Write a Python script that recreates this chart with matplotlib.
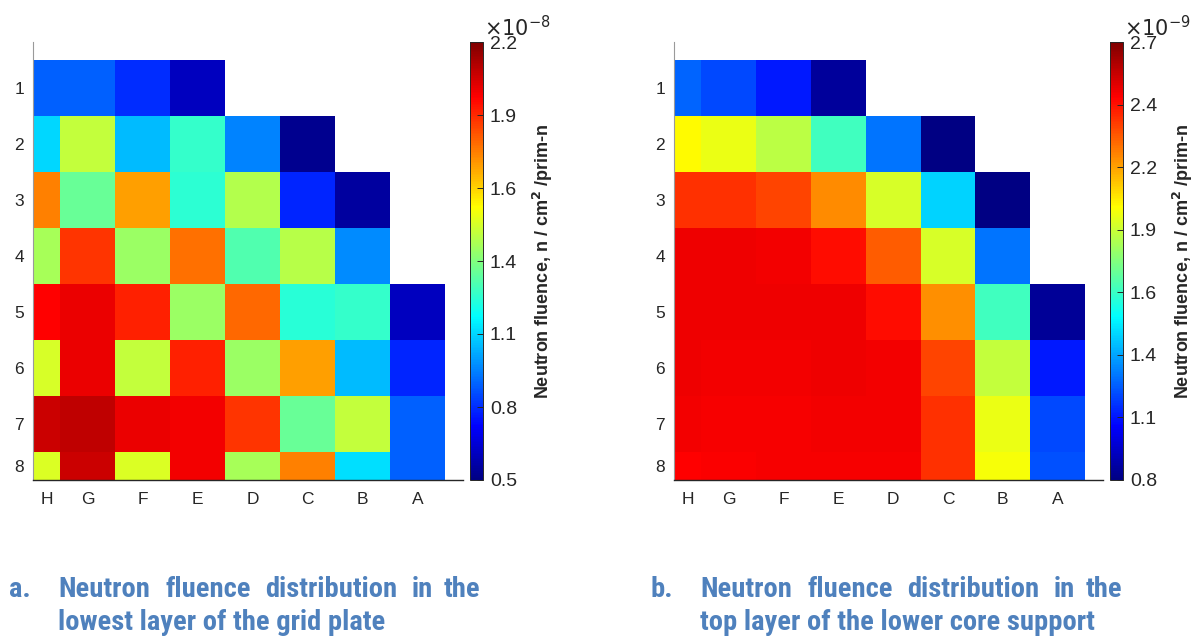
import numpy as np
import matplotlib
matplotlib.use("Agg")
import matplotlib.pyplot as plt
from matplotlib.colors import ListedColormap

plt.rcParams['font.family'] = ['Liberation Sans', 'DejaVu Sans']

rows = ['1', '2', '3', '4', '5', '6', '7', '8']
cols = ['H', 'G', 'F', 'E', 'D', 'C', 'B', 'A']
nan = np.nan

# fluence values (x1e-8 and x1e-9), nan = no assembly
fluence_a = np.array([
    [0.87, 0.87, 0.78, 0.60,  nan,   nan,  nan,  nan],
    [1.07, 1.46, 1.02, 1.22,  0.93,  0.52, nan,  nan],
    [1.77, 1.31, 1.72, 1.21,  1.43,  0.77, 0.55, nan],
    [1.41, 1.90, 1.39, 1.80,  1.27,  1.44, 0.94, nan],
    [1.986, 2.02, 1.93, 1.39, 1.81,  1.20, 1.22, 0.60],
    [1.49, 2.02, 1.46, 1.93,  1.39,  1.72, 1.02, 0.77],
    [2.069, 2.091, 2.02, 2.003, 1.90, 1.31, 1.46, 0.87],
    [1.50, 2.069, 1.50, 2.003, 1.41, 1.77, 1.08, 0.87],
])
fluence_b = np.array([
    [1.22,  1.17,  1.08,  0.85,  nan,   nan,  nan,  nan],
    [1.99,  1.95,  1.86,  1.63,  1.25,  0.80, nan,  nan],
    [2.37,  2.37,  2.33,  2.20,  1.91,  1.43, 0.80, nan],
    [2.487, 2.487, 2.484, 2.436, 2.29,  1.91, 1.25, nan],
    [2.487, 2.487, 2.487, 2.491, 2.436, 2.195, 1.63, 0.84],
    [2.491, 2.479, 2.479, 2.487, 2.479, 2.33, 1.87, 1.08],
    [2.479, 2.476, 2.476, 2.479, 2.479, 2.37, 1.95, 1.17],
    [2.46,  2.465, 2.476, 2.476, 2.476, 2.37, 1.97, 1.18],
])

range_a = (0.5, 2.2)
range_b = (0.8, 2.7)
cbar_labels_a = ['0.5', '0.8', '1.1', '1.4', '1.6', '1.9', '2.2']
cbar_labels_b = ['0.8', '1.1', '1.4', '1.6', '1.9', '2.2', '2.4', '2.7']
exponent_a = r'$\times10^{-8}$'
exponent_b = r'$\times10^{-9}$'

caption_a = ['a.', ['Neutron', 'fluence', 'distribution', 'in', 'the'],
             'lowest layer of the grid plate']
caption_b = ['b.', ['Neutron', 'fluence', 'distribution', 'in', 'the'],
             'top layer of the lower core support']

txt = '#262626'
cap_color = '#4f81bd'


def matlab_jet(m=256):
    # same construction as MATLAB's jet(m)
    n = int(np.ceil(m / 4))
    u = np.concatenate([np.arange(1, n + 1) / n, np.ones(n - 1), np.arange(n, 0, -1) / n])
    g = int(np.ceil(n / 2)) - (m % 4 == 1) + np.arange(1, len(u) + 1)
    r, b = g + n, g - n
    cmap = np.zeros((m, 3))
    for ch, idx in [(0, r), (1, g), (2, b)]:
        ok = (idx >= 1) & (idx <= m)
        cmap[idx[ok] - 1, ch] = u[ok]
    return ListedColormap(cmap)


jet = matlab_jet(256)
W, H = 1200, 637
fig = plt.figure(figsize=(12, 6.37), dpi=100)


def px(x0, y0, x1, y1):
    return (x0 / W, 1 - y1 / H, (x1 - x0) / W, (y1 - y0) / H)


def panel(ax_box, cax_box, data, vrange, labels, expo, expo_x, label_x):
    ax = fig.add_axes(px(*ax_box))
    xe = np.arange(len(cols) + 1) - 0.5
    ye = np.arange(len(rows) + 1) + 0.5
    m = ax.pcolormesh(xe, ye, np.ma.masked_invalid(data), cmap=jet,
                      vmin=vrange[0], vmax=vrange[1], edgecolors='none',
                      antialiased=False)
    ax.set_xlim(0, 7.83)
    ax.set_ylim(8.0, 0.17)
    ax.set_xticks([0.25] + list(range(1, 8)))
    ax.set_xticklabels(cols)
    ax.set_yticks(list(range(1, 8)) + [7.75])
    ax.set_yticklabels(rows)
    ax.tick_params(axis='both', length=0, labelsize=12.5, colors=txt)
    ax.tick_params(axis='x', pad=9)
    ax.tick_params(axis='y', pad=6.5)
    for s in ['top', 'right']:
        ax.spines[s].set_visible(False)
    ax.spines['left'].set_color('#9a9a9a')
    ax.spines['left'].set_linewidth(0.8)
    ax.spines['bottom'].set_color(txt)
    ax.spines['bottom'].set_linewidth(1.0)

    cax = fig.add_axes(px(*cax_box))
    cb = fig.colorbar(m, cax=cax, ticks=np.linspace(vrange[0], vrange[1], len(labels)))
    cb.ax.set_yticklabels(labels)
    cb.ax.tick_params(direction='in', length=4, width=0.7, colors=txt,
                      labelsize=14, pad=5)
    cb.outline.set_edgecolor(txt)
    cb.outline.set_linewidth(0.7)
    fig.text(expo_x / W, 1 - 36 / H, expo, fontsize=15, color=txt,
             ha='left', va='baseline')
    fig.text(label_x / W, 1 - 261 / H,
             r'Neutron fluence, n / cm$^{\mathbf{2}}$ /prim-n',
             rotation=90, ha='center', va='center', fontsize=13,
             fontweight='bold', color=txt)


panel((33, 42, 463, 480), (470, 42, 483, 480), fluence_a, range_a,
      cbar_labels_a, exponent_a, 484, 543)
panel((674, 42, 1103, 480), (1110, 42, 1123, 480), fluence_b, range_b,
      cbar_labels_b, exponent_b, 1124, 1183)

cap_font = dict(fontsize=20.5, fontweight='bold', color=cap_color,
                family=['Roboto Condensed', 'PT Sans Narrow', 'Liberation Sans'],
                va='baseline', ha='left')
word_x = [58, 166, 265, 412, 444]
for cap, shift in [(caption_a, 0), (caption_b, 642)]:
    fig.text((9 + shift) / W, 1 - 597 / H, cap[0], **cap_font)
    for w, x in zip(cap[1], word_x):
        fig.text((x + shift) / W, 1 - 597 / H, w, **cap_font)
    fig.text((58 + shift) / W, 1 - 630 / H, cap[2], **cap_font)

fig.savefig('out.png', dpi=100)
